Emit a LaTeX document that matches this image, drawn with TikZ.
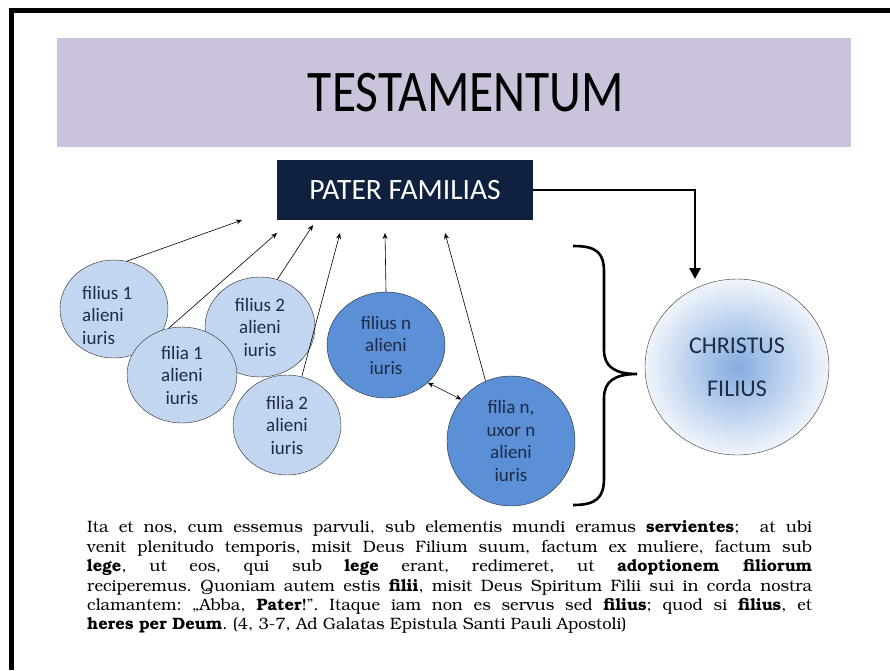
\documentclass[tikz,border=0pt]{standalone}
\usepackage[T1,TU]{fontenc}
\usepackage{fontspec}
\setmainfont{Carlito}
\newcommand{\bookfont}{\fontencoding{T1}\fontfamily{pbk}\selectfont}
\usetikzlibrary{shapes.geometric,arrows.meta}
\definecolor{band}{HTML}{CBC3DB}
\definecolor{navy}{HTML}{10213F}
\definecolor{pale}{HTML}{C3D6EF}
\definecolor{mid}{HTML}{5B8FD6}
\definecolor{ink}{HTML}{1E2B45}
\tikzset{
  kid/.style={ellipse, draw=black!85, fill=pale, inner sep=0pt, text=ink, align=center,
    font=\fontsize{19}{22.5}\selectfont},
  heir/.style={kid, fill=mid},
  tie/.style={-{Stealth[length=6pt,width=5pt]}, line width=0.6pt},
  tietwo/.style={{Stealth[length=6pt,width=5pt]}-{Stealth[length=6pt,width=5pt]}, line width=0.6pt},
  bold arrow/.style={line width=2.6pt, -{Triangle[length=11pt,width=11pt]}},
}

\begin{document}
\begin{tikzpicture}[x=1pt,y=-1pt]
    \useasboundingbox (0,0) rectangle (890,670);
    % frame
    \draw[line width=5pt] (11,670) -- (11,10) -- (890,10);
    % title
    \fill[band] (57,38) rectangle (851,147);
    \node[font=\fontsize{59}{60}\selectfont, xscale=0.84, inner sep=0pt] (title) at (466,93) {TESTAMENTUM};
    \node[fill=navy, text=white, inner sep=0pt, minimum width=256pt, minimum height=60pt,
      font=\fontsize{29.5}{30}\selectfont] (pater) at (405,190) {PATER FAMILIAS};
    % children
    \node[kid, minimum width=108pt, minimum height=98pt] (f1) at (114,309) {};
    \node[kid, minimum width=110pt, minimum height=100pt] (s2) at (260,327) {filius 2\\alieni\\iuris};
    \node[kid, minimum width=110pt, minimum height=96pt] (a1) at (182,375) {filia 1\\alieni\\iuris};
    \node[kid, minimum width=108pt, minimum height=100pt] (a2) at (287,425) {filia 2\\alieni\\iuris};
    \node[heir, minimum width=118pt, minimum height=106pt] (sn) at (386,345) {filius n\\alieni\\iuris};
    \node[heir, minimum width=128pt, minimum height=130pt] (an) at (511,441) {filia n,\\uxor n\\alieni\\iuris};
    \node[text=ink, align=left, anchor=west, inner sep=0pt, font=\fontsize{19}{22.5}\selectfont]
      (f1t) at (82,315) {filius 1\\alieni\\iuris};
    % heir
    \node[ellipse, draw=black!80, inner sep=0pt, minimum width=184pt, minimum height=176pt,
      shading=radial, inner color=mid!75, outer color=pale!25, text=ink, align=center,
      font=\fontsize{24}{43}\selectfont] (chr) at (737,367) {CHRISTUS\\FILIUS};
    % arrows up to the pater
    \coordinate (t1) at (242,220);
    \coordinate (t2) at (277,233);
    \coordinate (t3) at (313,225);
    \coordinate (t4) at (340,233);
    \coordinate (t5) at (385,233);
    \coordinate (t6) at (445,233);
    \coordinate (chin) at (695,279);
    \draw[tie] (f1.75) -- (t1);
    \draw[tie] (a1.106) -- (t2);
    \draw[tie] (s2.70) -- (t3);
    \draw[tie] (a2.73) -- (t4);
    \draw[tie] (sn.90) -- (t5);
    \draw[tie] (an.113) -- (t6);
    \draw[tietwo] (sn.-42) -- (an.140);
    \draw[bold arrow] (pater.east) -| (chin);
    % brace
    \draw[line width=2.6pt] (573,246) .. controls (596,246) and (604,252) .. (604,272)
      -- (604,350) .. controls (604,366) and (614,374) .. (637,374)
      .. controls (614,374) and (604,382) .. (604,398)
      -- (604,478) .. controls (604,498) and (596,505) .. (573,505);
    % text
    \node[anchor=north west, inner sep=0pt, text width=725pt, align=justify,
      font=\bookfont\fontsize{16.5}{19.4}\selectfont\frenchspacing] (verse) at (87,521)
      {Ita et nos, cum essemus parvuli, sub elementis mundi eramus \textbf{servientes};\ \ at ubi\linebreak
       venit plenitudo temporis, misit Deus Filium suum, factum ex muliere, factum sub\linebreak
       \textbf{lege}, ut eos, qui sub \textbf{lege} erant, redimeret, ut \textbf{adoptionem filiorum}\linebreak
       reciperemus. Quoniam autem estis \textbf{filii}, misit Deus Spiritum Filii sui in corda nostra\linebreak
       clamantem: \quotedblbase Abba, \textbf{Pater}!''. Itaque iam non es servus sed \textbf{filius}; quod si \textbf{filius}, et\linebreak
       \textbf{heres per Deum}. (4, 3-7, Ad Galatas Epistula Santi Pauli Apostoli)};
\end{tikzpicture}
\end{document}
